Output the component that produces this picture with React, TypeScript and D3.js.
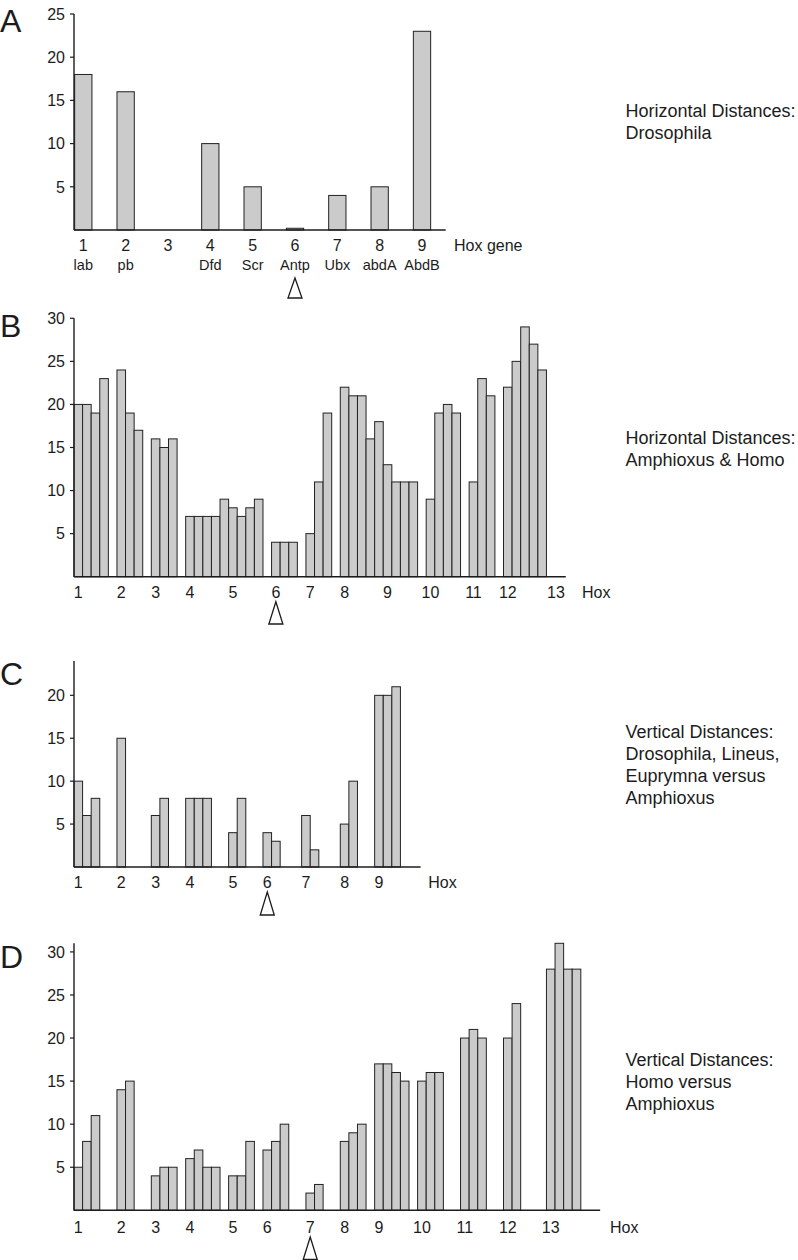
import React from 'react';
import * as d3 from 'd3';

// ---------- Data ----------
// Panel A: Horizontal distances, Drosophila
const aNumbers = ['1', '2', '3', '4', '5', '6', '7', '8', '9'];
const aGenes = ['lab', 'pb', '', 'Dfd', 'Scr', 'Antp', 'Ubx', 'abdA', 'AbdB'];
const aValues = [18, 16, 0, 10, 5, 0.2, 4, 5, 23];
const aTicks = [5, 10, 15, 20, 25];

// Panel B: Horizontal distances, Amphioxus & Homo (slot index -> value)
const bSlots = [0, 1, 2, 3, 5, 6, 7, 9, 10, 11, 13, 14, 15, 16, 17, 18, 19, 20, 21, 23, 24, 25, 27, 28, 29,
  31, 32, 33, 34, 35, 36, 37, 38, 39, 41, 42, 43, 44, 46, 47, 48, 50, 51, 52, 53, 54];
const bValues = [20, 20, 19, 23, 24, 19, 17, 16, 15, 16, 7, 7, 7, 7, 9, 8, 7, 8, 9, 4, 4, 4, 5, 11, 19,
  22, 21, 21, 16, 18, 13, 11, 11, 11, 9, 19, 20, 19, 11, 23, 21, 22, 25, 29, 27, 24];
const bLabels = ['1', '2', '3', '4', '5', '6', '7', '8', '9', '10', '11', '12', '13'];
const bLabelSlots = [0, 5, 9, 13, 18, 23, 27, 31, 36, 41, 46, 50, 55.6];
const bTicks = [5, 10, 15, 20, 25, 30];

// Panel C: Vertical distances, Drosophila, Lineus, Euprymna vs Amphioxus
const cSlots = [0, 1, 2, 5, 9, 10, 13, 14, 15, 18, 19, 22, 23, 26.5, 27.5, 31, 32, 35, 36, 37];
const cValues = [10, 6, 8, 15, 6, 8, 8, 8, 8, 4, 8, 4, 3, 6, 2, 5, 10, 20, 20, 21];
const cLabels = ['1', '2', '3', '4', '5', '6', '7', '8', '9'];
const cLabelSlots = [0, 5, 9, 13, 18, 22, 26.5, 31, 35];
const cTicks = [5, 10, 15, 20];

// Panel D: Vertical distances, Homo vs Amphioxus
const dSlots = [0, 1, 2, 5, 6, 9, 10, 11, 13, 14, 15, 16, 18, 19, 20, 22, 23, 24, 27, 28, 31, 32, 33,
  35, 36, 37, 38, 40, 41, 42, 45, 46, 47, 50, 51, 55, 56, 57, 58];
const dValues = [5, 8, 11, 14, 15, 4, 5, 5, 6, 7, 5, 5, 4, 4, 8, 7, 8, 10, 2, 3, 8, 9, 10,
  17, 17, 16, 15, 15, 16, 16, 20, 21, 20, 20, 24, 28, 31, 28, 28];
const dLabels = ['1', '2', '3', '4', '5', '6', '7', '8', '9', '10', '11', '12', '13'];
const dLabelSlots = [0, 5, 9, 13, 18, 22, 27, 31, 35, 40, 45, 50, 55];
const dTicks = [5, 10, 15, 20, 25, 30];

// ---------- Style ----------
const FONT = '"Liberation Sans", Arial, Helvetica, sans-serif';
const INK = '#1c1c1c';
const BAR_FILL = '#cbcbcb';
const BAR_STROKE = '#222';
const AXIS_X = 74;
const SLOT = 8.59;

type PanelProps = {
  letter: string;
  letterY: number;
  yZero: number;
  yTopPx: number;
  yTopVal: number;
  ticks: number[];
  slots: number[];
  values: number[];
  nSlots: number;
  labels: string[];
  labelSlots: number[];
  labelY: number;
  hoxX: number;
  hoxText: string;
  arrowSlot: number;
  arrowTop: number;
  arrowBottom: number;
  side: string[];
  sideY: number;
};

function YAxis({ y, ticks, topPx, zeroPx }: { y: d3.ScaleLinear<number, number>; ticks: number[]; topPx: number; zeroPx: number }) {
  return (
    <g>
      <line x1={AXIS_X} x2={AXIS_X} y1={topPx} y2={zeroPx} stroke={INK} strokeWidth={1.4} />
      {ticks.map((t) => (
        <g key={t}>
          <line x1={AXIS_X - 4} x2={AXIS_X} y1={y(t)} y2={y(t)} stroke={INK} strokeWidth={1.2} />
          <text x={65} y={y(t) + 5.8} textAnchor="end" fontSize={16} fontFamily={FONT} fill={INK}>{t}</text>
        </g>
      ))}
    </g>
  );
}

function Arrow({ cx, top, bottom }: { cx: number; top: number; bottom: number }) {
  const path = d3.path();
  path.moveTo(cx, top);
  path.lineTo(cx + 7, bottom);
  path.lineTo(cx - 7, bottom);
  path.closePath();
  return <path d={path.toString()} fill="#fff" stroke={INK} strokeWidth={1.3} strokeLinejoin="miter" />;
}

function SideText({ lines, y }: { lines: string[]; y: number }) {
  return (
    <g>
      {lines.map((l, i) => (
        <text key={i} x={625.5} y={y + i * 22} fontSize={18} fontFamily={FONT} fill={INK}>{l}</text>
      ))}
    </g>
  );
}

function SlotPanel(p: PanelProps) {
  const x = d3.scaleLinear().domain([0, p.nSlots]).range([AXIS_X, AXIS_X + p.nSlots * SLOT]);
  const y = d3.scaleLinear().domain([0, p.yTopVal]).range([p.yZero, p.yTopPx]);
  const bw = x(1) - x(0);
  return (
    <g>
      <text x={0} y={p.letterY} fontSize={32} fontFamily={FONT} fill={INK}>{p.letter}</text>
      {p.slots.map((s, i) => (
        <rect key={i} x={x(s)} y={y(p.values[i])} width={bw} height={y(0) - y(p.values[i])}
          fill={BAR_FILL} stroke={BAR_STROKE} strokeWidth={1} />
      ))}
      <YAxis y={y} ticks={p.ticks} topPx={p.yTopPx} zeroPx={p.yZero} />
      <line x1={AXIS_X} x2={x(p.nSlots)} y1={p.yZero} y2={p.yZero} stroke={INK} strokeWidth={1.5} />
      {p.labels.map((l, i) => (
        <text key={i} x={x(p.labelSlots[i] + 0.5)} y={p.labelY} textAnchor="middle" fontSize={16} fontFamily={FONT} fill={INK}>{l}</text>
      ))}
      <text x={p.hoxX} y={p.labelY} fontSize={16} fontFamily={FONT} fill={INK}>{p.hoxText}</text>
      <Arrow cx={x(p.arrowSlot + 0.5)} top={p.arrowTop} bottom={p.arrowBottom} />
      <SideText lines={p.side} y={p.sideY} />
    </g>
  );
}

function PanelA() {
  const x = d3.scaleLinear().domain([1, 9]).range([83.3, 422]);
  const y = d3.scaleLinear().domain([0, 25]).range([230, 14]);
  const bw = 17.3;
  return (
    <g>
      <text x={0} y={32} fontSize={32} fontFamily={FONT} fill={INK}>A</text>
      {aValues.map((v, i) => v > 0 ? (
        <rect key={i} x={x(i + 1) - bw / 2} y={y(v)} width={bw} height={y(0) - y(v)}
          fill={BAR_FILL} stroke={BAR_STROKE} strokeWidth={1} />
      ) : null)}
      <YAxis y={y} ticks={aTicks} topPx={14} zeroPx={230} />
      <line x1={AXIS_X} x2={445.7} y1={230} y2={230} stroke={INK} strokeWidth={1.5} />
      {aNumbers.map((n, i) => (
        <text key={'n' + i} x={x(i + 1)} y={250.8} textAnchor="middle" fontSize={16} fontFamily={FONT} fill={INK}>{n}</text>
      ))}
      {aGenes.map((g, i) => (
        <text key={'g' + i} x={x(i + 1)} y={270} textAnchor="middle" fontSize={14.5} fontFamily={FONT} fill={INK}>{g}</text>
      ))}
      <text x={454} y={250.8} fontSize={16} fontFamily={FONT} fill={INK}>Hox gene</text>
      <Arrow cx={x(6)} top={278} bottom={298} />
      <SideText lines={['Horizontal Distances:', 'Drosophila']} y={117} />
    </g>
  );
}

export default function App() {
  return (
    <svg width={798} height={1260} viewBox="0 0 798 1260"
      style={{ position: 'absolute', left: 0, top: 0, display: 'block', background: '#fff' }}>
      <rect x={0} y={0} width={798} height={1260} fill="#fff" />
      <PanelA />
      <SlotPanel letter="B" letterY={337} yZero={576.7} yTopPx={318.3} yTopVal={30} ticks={bTicks}
        slots={bSlots} values={bValues} nSlots={57.25} labels={bLabels} labelSlots={bLabelSlots}
        labelY={597.5} hoxX={582} hoxText="Hox" arrowSlot={23} arrowTop={601.7} arrowBottom={624}
        side={['Horizontal Distances:', 'Amphioxus & Homo']} sideY={444} />
      <SlotPanel letter="C" letterY={684.5} yZero={867} yTopPx={661} yTopVal={24} ticks={cTicks}
        slots={cSlots} values={cValues} nSlots={40.35} labels={cLabels} labelSlots={cLabelSlots}
        labelY={887.5} hoxX={428.3} hoxText="Hox" arrowSlot={22} arrowTop={892} arrowBottom={915}
        side={['Vertical Distances:', 'Drosophila, Lineus,', 'Euprymna versus', 'Amphioxus']} sideY={738} />
      <SlotPanel letter="D" letterY={968} yZero={1210.3} yTopPx={943.3} yTopVal={31} ticks={dTicks}
        slots={dSlots} values={dValues} nSlots={61.25} labels={dLabels} labelSlots={dLabelSlots}
        labelY={1232.5} hoxX={610} hoxText="Hox" arrowSlot={27} arrowTop={1237} arrowBottom={1259.5}
        side={['Vertical Distances:', 'Homo versus', 'Amphioxus']} sideY={1065.5} />
    </svg>
  );
}
